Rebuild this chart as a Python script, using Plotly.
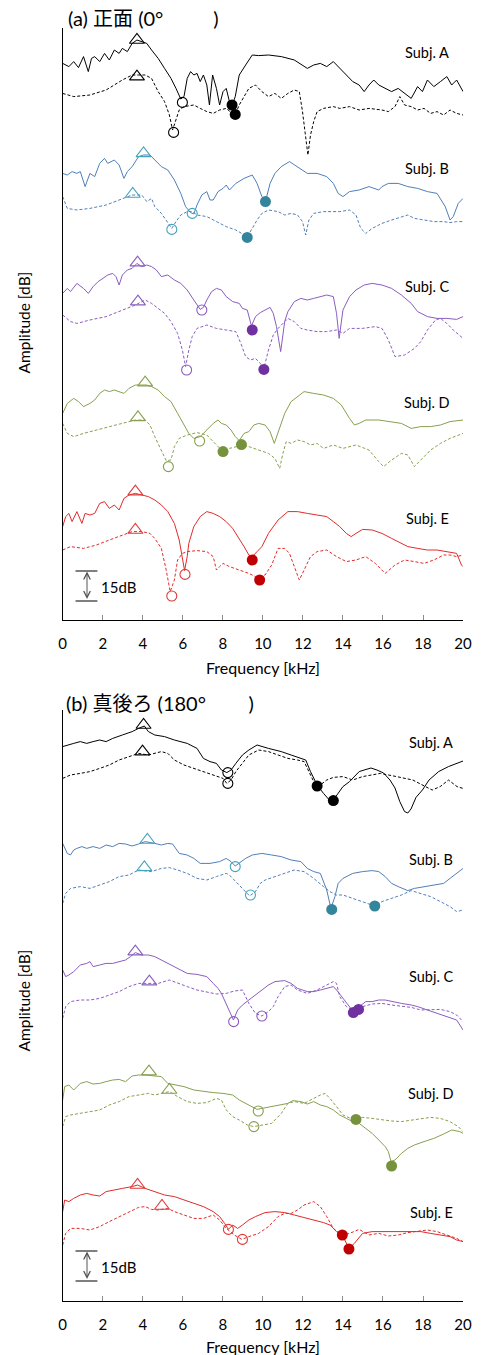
import plotly.graph_objects as go

W, H = 485, 1355
FREQ_TICKS = list(range(0, 21, 2))
SUBJECTS = ["A", "B", "C", "D", "E"]
# display offsets (dB) of each subject's curves in each panel
OFFSET_FRONT = [297.5, 240.0, 185.0, 125.0, 70.0]
OFFSET_BACK = [300.5, 240.5, 185.5, 120.5, 65.5]
LINE_COLORS = ["#000000", "#4f7fb8", "#8a5cc0", "#86a04e", "#e22a2a"]
OPEN_COLORS = ["#000000", "#45a3bd", "#8a5cc0", "#86a04e", "#e03a3a"]
FILL_COLORS = ["#000000", "#31859c", "#7030a0", "#76923c", "#c00000"]

# ---------------- (a) front 0 deg : (kHz, dB) ----------------
front_A_solid = [(0.0,-19.2),(0.31,-20.8),(0.55,-18.3),(0.79,-21.3),(1.04,-15.8),(1.28,-23.3),(1.44,-16.7),(1.60,-15.8),(1.85,-18.3),(2.09,-14.2),(2.33,-17.5),(2.58,-12.5),(2.82,-14.2),(2.98,-11.7),(3.23,-13.3),(3.47,-9.2),(3.71,-7.5),(3.95,-8.3),(4.20,-9.2),(4.44,-12.5),(4.77,-16.7),(5.09,-21.7),(5.41,-26.7),(5.66,-31.7),(5.90,-37),(6.06,-35.8),(6.22,-26.7),(6.39,-23.3),(6.55,-25),(6.71,-24.2),(6.87,-28.3),(7.03,-25),(7.20,-30),(7.33,-40),(7.49,-25),(7.68,-31.7),(7.84,-40),(8.01,-33.3),(8.17,-31.7),(8.33,-38.3),(8.46,-40.3),(8.62,-35.8),(8.82,-25),(9.14,-20),(9.47,-15),(9.79,-15.3),(10.28,-15),(10.92,-15.8),(11.57,-17.5),(12.22,-21.7),(12.54,-20),(12.87,-19.2),(13.19,-20.8),(13.52,-18.3),(13.84,-21.7),(14.17,-25),(14.49,-28.3),(14.81,-30),(15.06,-33.3),(15.30,-30),(15.54,-27.5),(15.79,-30),(16.11,-31.7),(16.43,-33.3),(16.76,-31.7),(17.08,-34.2),(17.41,-36.7),(17.73,-30.8),(17.97,-33.3),(18.22,-27.5),(18.54,-30.8),(18.87,-28.3),(19.19,-25.8),(19.43,-30),(19.68,-27.5),(20.0,-33.3)]
front_A_dash = [(0.0,-34.2),(0.55,-35.8),(1.36,-35),(2.17,-32.5),(2.98,-27.5),(3.47,-25),(3.79,-25),(4.12,-25),(4.44,-26.7),(4.77,-33.3),(5.09,-38.3),(5.33,-45),(5.49,-52.5),(5.61,-49.2),(5.82,-42.5),(6.06,-40.8),(6.55,-40),(6.87,-41.7),(7.20,-43.3),(7.52,-44.2),(7.84,-42.5),(8.17,-41.7),(8.41,-43.7),(8.62,-44.7),(8.82,-40),(9.06,-35.8),(9.30,-31.7),(9.63,-30),(9.95,-33.3),(10.28,-35.8),(10.60,-34.2),(10.92,-36.7),(11.25,-34.2),(11.57,-32.5),(11.82,-33.3),(11.98,-43.3),(12.14,-55),(12.25,-65),(12.38,-55),(12.54,-48.3),(12.71,-43.3),(13.03,-41.7),(13.52,-40.8),(13.84,-41.7),(14.33,-40.8),(14.81,-42.5),(15.30,-41.7),(15.95,-42.5),(16.27,-43.3),(16.60,-40.8),(16.84,-35.8),(17.08,-40),(17.41,-40.8),(17.73,-42.5),(18.05,-41.7),(18.38,-44.2),(18.70,-43.3),(19.03,-45),(19.35,-42.5),(19.68,-44.2),(20.0,-45)]

front_B_solid = [(0.0,-16.7),(0.23,-17.5),(0.47,-15.8),(0.71,-16.7),(0.88,-15.8),(1.12,-23.3),(1.36,-16.7),(1.60,-18.3),(1.85,-11.7),(2.09,-9.2),(2.25,-11.7),(2.41,-10.8),(2.58,-10),(2.82,-12.5),(3.06,-19.2),(3.23,-15.8),(3.47,-13.3),(3.79,-8.3),(4.04,-7.5),(4.36,-7.5),(4.60,-10),(4.93,-13.3),(5.25,-15),(5.58,-20),(5.90,-26.7),(6.14,-33.3),(6.39,-36.3),(6.55,-37),(6.71,-32.5),(6.95,-27.5),(7.20,-25.8),(7.36,-30),(7.52,-30),(7.76,-25.8),(8.01,-24.2),(8.17,-22.5),(8.33,-25),(8.65,-21.7),(9.06,-19.2),(9.47,-17.5),(9.71,-21.7),(9.95,-28.3),(10.13,-30.8),(10.36,-21.7),(10.60,-16.7),(10.92,-13.3),(11.33,-10.8),(11.73,-13.3),(12.22,-16.7),(12.71,-16.7),(13.19,-18.3),(13.52,-21.7),(13.76,-26.7),(14.00,-28.3),(14.33,-25.8),(14.81,-25),(15.30,-23.3),(15.79,-25),(15.95,-23.3),(16.27,-21.7),(16.76,-21.7),(17.24,-23.3),(17.73,-24.2),(18.22,-25.8),(18.70,-26.7),(19.11,-33.3),(19.35,-40),(19.51,-38.3),(19.76,-31.7),(20.0,-29.2)]
front_B_dash = [(0.0,-28.3),(0.23,-34.2),(0.71,-35),(1.36,-34.2),(2.17,-32.5),(2.98,-29.2),(3.47,-27.5),(3.95,-27.5),(4.20,-30.8),(4.44,-29.2),(4.60,-33.3),(4.93,-36.7),(5.25,-41.7),(5.45,-44.2),(5.66,-40.8),(5.90,-37.5),(6.22,-35.8),(6.47,-35.8),(6.71,-37.5),(7.20,-38.3),(7.68,-40.8),(8.17,-43.3),(8.65,-45),(9.22,-48.3),(9.47,-44.2),(9.71,-40),(9.95,-36.7),(10.28,-35),(10.76,-35.8),(11.09,-37.5),(11.41,-36.7),(11.73,-37.5),(11.98,-40.8),(12.14,-47.5),(12.30,-40),(12.54,-36.7),(13.03,-35.8),(13.84,-35.8),(14.33,-35),(14.65,-37.5),(14.89,-44.2),(15.14,-46.7),(15.46,-44.2),(15.95,-41.7),(16.43,-40),(16.92,-38.3),(17.24,-37.5),(17.57,-39.2),(18.05,-40),(18.54,-40.8),(19.03,-40.8),(19.35,-41.3),(19.68,-40.8),(20.0,-40.8)]

front_C_solid = [(0.0,-21.7),(0.23,-19.2),(0.39,-20.8),(0.71,-16.7),(1.04,-19.2),(1.28,-21.7),(1.52,-18.3),(1.77,-15.8),(2.01,-14.2),(2.25,-12.5),(2.50,-11.7),(2.66,-13.3),(2.82,-17.5),(2.98,-12.5),(3.23,-10),(3.47,-9.2),(3.71,-6.7),(3.95,-8.3),(4.20,-7.5),(4.44,-8.3),(4.68,-10),(4.93,-13.3),(5.25,-12.5),(5.58,-15),(5.90,-16.7),(6.22,-20),(6.55,-25),(6.87,-29.7),(7.03,-28.7),(7.20,-25),(7.44,-20.8),(7.68,-19.2),(7.93,-20),(8.17,-23.3),(8.49,-25.8),(8.82,-26.7),(8.98,-29.2),(9.22,-30),(9.43,-38),(9.63,-33.3),(9.87,-31.3),(10.11,-30),(10.36,-28.7),(10.52,-31.7),(10.68,-38.3),(10.89,-50.8),(11.09,-35.8),(11.25,-30.8),(11.57,-25.8),(11.90,-24.2),(12.22,-25),(12.54,-24.2),(12.87,-23.3),(13.19,-22.5),(13.52,-23.3),(13.68,-31.7),(13.81,-44.2),(14.00,-30),(14.33,-23.3),(14.65,-20),(15.06,-17.5),(15.46,-16.7),(15.95,-17.5),(16.43,-19.2),(16.92,-22.5),(17.41,-26.7),(17.73,-30.8),(18.22,-33.3),(18.70,-34.2),(19.19,-34.2),(19.68,-34.7),(20.0,-33.3)]
front_C_dash = [(0.0,-32.5),(0.39,-35.8),(0.71,-36.7),(1.36,-35),(2.17,-33.3),(2.98,-30),(3.63,-27.5),(4.12,-25),(4.44,-26.7),(4.77,-29.2),(5.09,-31.7),(5.41,-35.8),(5.74,-41.7),(5.98,-50),(6.14,-58.3),(6.30,-50),(6.47,-43.3),(6.71,-39.2),(7.20,-37.5),(7.68,-39.2),(8.17,-40),(8.65,-40.8),(8.90,-46.7),(9.14,-53.3),(9.38,-55),(9.63,-54.2),(9.87,-56.7),(10.05,-59.2),(10.28,-50),(10.52,-42.5),(10.76,-39.2),(11.09,-35.8),(11.25,-34.2),(11.57,-35.8),(11.90,-39.2),(12.22,-40),(12.71,-40.8),(13.19,-40.8),(13.68,-40),(14.00,-41.7),(14.33,-39.2),(14.98,-39.2),(15.62,-38.3),(15.95,-39.2),(16.27,-45),(16.60,-53.3),(17.08,-52.5),(17.57,-49.2),(17.89,-45.8),(18.22,-40),(18.62,-35),(18.87,-34.2),(19.19,-36.7),(19.51,-40),(20.0,-44.2)]

front_D_solid = [(0.0,-21.7),(0.23,-16.7),(0.55,-14.2),(0.79,-15.8),(1.04,-18.3),(1.36,-16.7),(1.60,-15),(1.85,-11.7),(2.09,-10),(2.33,-10.8),(2.58,-10),(2.82,-10.8),(3.06,-11.7),(3.31,-9.2),(3.63,-7.5),(3.95,-7.5),(4.20,-7.5),(4.44,-8.3),(4.77,-10),(5.09,-13.3),(5.41,-15.8),(5.74,-21.7),(6.06,-27.5),(6.30,-31.7),(6.55,-34.2),(6.87,-33.3),(7.20,-30),(7.52,-26.7),(7.76,-25),(7.93,-26.7),(8.17,-27.5),(8.41,-30),(8.62,-33.3),(8.82,-35.3),(9.06,-31.7),(9.30,-30.8),(9.55,-27.5),(9.79,-26.7),(10.11,-27.5),(10.36,-30.8),(10.57,-36.7),(10.76,-30.8),(11.09,-21.7),(11.41,-15.8),(11.73,-13.3),(12.06,-10.8),(12.54,-11.7),(13.03,-12.5),(13.52,-14.2),(13.92,-17.5),(14.33,-24.2),(14.57,-27.5),(14.81,-26.7),(15.14,-25),(15.79,-25),(16.43,-25.8),(16.92,-26.7),(17.41,-29.2),(17.89,-28.3),(18.38,-28.3),(18.87,-27.5),(19.35,-25.8),(20.0,-25)]
front_D_dash = [(0.0,-26.7),(0.23,-31.7),(0.55,-33.3),(1.04,-31.7),(1.69,-30),(2.33,-28.3),(2.98,-26.7),(3.63,-25),(4.12,-25),(4.36,-27.5),(4.60,-33.3),(4.93,-40),(5.17,-45.3),(5.41,-45),(5.58,-38.3),(5.82,-34.2),(6.22,-32.5),(6.71,-31.3),(7.20,-32.5),(7.52,-35.8),(7.84,-39.2),(8.01,-40.8),(8.33,-39.2),(8.82,-38),(9.30,-38.3),(9.79,-40),(10.28,-41.7),(10.60,-44.2),(10.84,-49.2),(11.00,-41.7),(11.17,-35.8),(11.41,-36.7),(11.73,-35),(12.06,-35.8),(12.38,-37.5),(12.71,-36.7),(13.03,-39.2),(13.52,-37.5),(14.00,-39.2),(14.65,-37.5),(15.30,-40),(15.79,-45.8),(16.03,-48.3),(16.43,-45),(16.92,-41.7),(17.24,-42.5),(17.57,-48.3),(17.89,-45),(18.38,-40),(18.87,-36.7),(19.35,-34.2),(20.0,-31.7)]

front_E_solid = [(0.0,-23.3),(0.15,-18.3),(0.31,-16.7),(0.47,-20.8),(0.71,-15.8),(0.96,-21.7),(1.12,-16.7),(1.36,-17.5),(1.60,-16.7),(1.85,-11.7),(2.09,-10.8),(2.33,-14.2),(2.58,-12.5),(2.82,-15),(3.06,-9.2),(3.31,-7.5),(3.63,-6.7),(3.95,-7.5),(4.28,-8.3),(4.60,-10),(4.93,-12.5),(5.25,-15.8),(5.58,-21.7),(5.82,-30),(5.98,-40),(6.09,-45.3),(6.22,-38.3),(6.30,-31.7),(6.55,-23.3),(6.87,-18.3),(7.20,-15.8),(7.52,-16.7),(7.84,-18.3),(8.17,-20.8),(8.49,-24.2),(8.82,-29.2),(9.06,-33.3),(9.30,-37.5),(9.47,-38.3),(9.71,-35.8),(9.95,-33.3),(10.28,-26.7),(10.76,-20),(11.25,-15.8),(11.73,-15.8),(12.22,-16.7),(12.71,-17.5),(13.19,-18.3),(13.52,-20.8),(13.84,-23.3),(14.17,-26.7),(14.41,-28.3),(14.65,-26.7),(14.98,-24.7),(15.46,-25),(15.95,-26.7),(16.43,-29.2),(16.92,-31.7),(17.24,-33.3),(17.73,-34.2),(18.22,-35),(18.70,-35),(19.19,-35.8),(19.68,-36.7),(19.92,-42.5),(20.0,-43.3)]
front_E_dash = [(0.0,-35),(0.39,-33.3),(1.04,-34.2),(1.69,-32.5),(2.33,-30),(2.98,-27.5),(3.47,-25.8),(3.95,-25.8),(4.36,-26.7),(4.60,-29.2),(4.93,-34.2),(5.17,-45),(5.37,-55.8),(5.58,-50),(5.74,-40),(5.98,-36.7),(6.22,-35.8),(6.71,-35.3),(7.20,-35.8),(7.52,-38.3),(7.68,-45),(7.84,-43.3),(8.01,-41.7),(8.33,-43.3),(8.82,-45),(9.30,-46.7),(9.63,-48.3),(10.11,-47.5),(10.44,-42.5),(10.76,-34.2),(11.09,-34.2),(11.33,-36.7),(11.57,-43.3),(11.82,-50),(12.06,-45),(12.38,-38.3),(12.71,-35.8),(13.19,-35),(13.68,-38.3),(14.17,-40.8),(14.65,-40),(15.14,-38.3),(15.62,-41.7),(16.11,-46.7),(16.60,-42.5),(17.08,-40),(17.57,-40.8),(18.05,-41.7),(18.54,-40),(19.03,-37.5),(19.35,-37.5),(19.68,-38.3),(20.0,-37.5)]

# ---------------- (b) back 180 deg : (kHz, dB) ----------------
back_A_solid = [(0.0,-23.3),(0.23,-22.5),(0.55,-21.7),(0.88,-20.8),(1.20,-21.7),(1.52,-20.8),(1.85,-20),(2.17,-20.8),(2.50,-19.2),(2.98,-17.5),(3.47,-15.8),(3.79,-14.2),(4.08,-13),(4.28,-15.8),(4.60,-17.5),(5.09,-18.3),(5.58,-20),(6.22,-21.7),(6.71,-24.2),(7.03,-29.2),(7.36,-30.8),(7.68,-31.7),(7.93,-35),(8.20,-36.3),(8.41,-35),(8.65,-31.7),(8.98,-27.5),(9.30,-25),(9.71,-22.5),(10.28,-24.2),(10.92,-25.8),(11.41,-27.5),(11.90,-29.2),(12.14,-30),(12.38,-35.8),(12.71,-42.5),(13.03,-46.7),(13.32,-50),(13.52,-50),(13.76,-46.7),(14.00,-43.3),(14.33,-40.8),(14.81,-35.8),(15.06,-35),(15.40,-34),(15.70,-35),(16.03,-36.5),(16.35,-40),(16.60,-44),(16.84,-50.8),(17.08,-55.8),(17.24,-56.5),(17.40,-54.5),(17.65,-48.7),(17.97,-45),(18.30,-40),(18.78,-35.8),(19.27,-33.3),(19.92,-30.8),(20.0,-30.5)]
back_A_dash = [(0.0,-39.2),(0.39,-37.5),(0.88,-36.7),(1.36,-35.8),(1.85,-34.2),(2.33,-32.5),(2.82,-30),(3.31,-28.3),(3.79,-26.7),(4.28,-27.5),(4.60,-26.7),(4.93,-25.8),(5.25,-26.7),(5.58,-30),(6.06,-32.5),(6.55,-34.2),(7.03,-35.8),(7.52,-37.5),(8.01,-39.2),(8.20,-41.7),(8.41,-40),(8.65,-35.8),(8.98,-31.7),(9.30,-27.5),(9.79,-25),(10.28,-25.8),(10.76,-27.5),(11.25,-29.2),(11.73,-30),(12.06,-30.8),(12.30,-35.8),(12.54,-40.8),(12.71,-43),(12.87,-42.5),(13.19,-40),(13.52,-38.7),(14.00,-38.3),(14.49,-40),(14.98,-38.3),(15.46,-37.5),(15.87,-36.7),(16.68,-38.3),(17.49,-40),(18.12,-43.3),(18.46,-45),(18.86,-43.3),(19.27,-40),(19.70,-43.3),(20.0,-44.2)]

back_B_solid = [(0.0,-11.7),(0.23,-16.7),(0.39,-17.5),(0.55,-15),(0.71,-14.2),(0.96,-13.3),(1.20,-14.2),(1.52,-13.3),(1.85,-14.2),(2.17,-12.5),(2.50,-13.3),(2.82,-11.7),(3.14,-12),(3.47,-13),(3.79,-12),(4.12,-10.8),(4.60,-11.7),(4.93,-12.5),(5.25,-11.7),(5.49,-12),(5.82,-16.7),(6.22,-17.5),(6.55,-19.2),(6.87,-21.7),(7.36,-21.7),(7.84,-20.8),(8.17,-19.2),(8.41,-20.8),(8.62,-23),(8.82,-21.7),(9.14,-19.2),(9.47,-17.5),(9.95,-16.7),(10.44,-17.5),(10.92,-18.3),(11.41,-20),(11.90,-20.8),(12.22,-24.2),(12.54,-25.8),(12.87,-26.7),(13.19,-35),(13.40,-44.2),(13.60,-38.3),(13.76,-31.7),(14.00,-29.2),(14.49,-26.7),(14.98,-25.8),(15.46,-25.3),(15.79,-25.8),(16.11,-28.3),(16.43,-31.7),(16.76,-33.3),(17.24,-35.3),(17.57,-34.2),(18.05,-33.3),(18.54,-32.5),(19.03,-31.7),(19.35,-29.2),(19.68,-26.7),(20.0,-24.2)]
back_B_dash = [(0.0,-41.7),(0.15,-36.7),(0.39,-34.2),(0.88,-33.3),(1.36,-34.2),(1.85,-32.5),(2.33,-30.8),(2.82,-28.3),(3.31,-27.5),(3.79,-25),(4.44,-25.8),(4.93,-24.2),(5.33,-23.8),(5.74,-25),(6.22,-26.7),(6.71,-29.2),(7.20,-30),(7.68,-28.3),(8.17,-26.7),(8.33,-27.5),(8.65,-30.8),(8.98,-34.2),(9.34,-38),(9.63,-35.8),(9.87,-31.7),(10.11,-30),(10.60,-28.3),(11.09,-26.7),(11.57,-25),(12.06,-25.8),(12.54,-29.2),(13.03,-33.3),(13.35,-35.8),(13.68,-37.5),(14.00,-37.5),(14.49,-39.2),(14.98,-40.8),(15.38,-42.5),(15.59,-43),(15.95,-40.8),(16.43,-39.2),(16.92,-37.5),(17.41,-35.3),(17.89,-36.7),(18.38,-38.3),(18.87,-40.8),(19.35,-43.3),(19.68,-45.8),(20.0,-45)]

back_C_solid = [(0.0,-20),(0.15,-23.3),(0.31,-22.5),(0.55,-20.8),(0.88,-17.5),(1.20,-16.7),(1.36,-15.8),(1.52,-18.3),(1.85,-17.5),(2.17,-16.7),(2.50,-16.7),(2.82,-15.8),(3.14,-15),(3.39,-13.3),(3.63,-11.3),(3.95,-12.5),(4.28,-12.5),(4.60,-13.3),(4.93,-15),(5.25,-16.7),(5.58,-18.3),(5.90,-20),(6.22,-21.7),(6.71,-22.2),(7.20,-23.3),(7.52,-26.7),(7.76,-29.2),(7.93,-31.7),(8.17,-36.7),(8.33,-40.8),(8.53,-45),(8.74,-40),(8.98,-37.5),(9.30,-35),(9.63,-32.5),(9.95,-30),(10.28,-27.5),(10.60,-25.8),(11.09,-25.3),(11.41,-26.7),(11.73,-29.2),(12.22,-30.8),(12.54,-30.8),(12.87,-30),(13.19,-29.2),(13.52,-28.3),(13.68,-30),(14.00,-34.2),(14.33,-38.3),(14.52,-40.8),(14.81,-38.3),(15.14,-35.8),(15.46,-35.8),(15.79,-35),(16.11,-35),(16.43,-35.8),(16.92,-36.7),(17.41,-37.5),(17.73,-38.3),(18.22,-40),(18.70,-41.7),(19.19,-43.3),(19.68,-45),(20.0,-50)]
back_C_dash = [(0.0,-44.2),(0.15,-38.3),(0.39,-35.8),(0.88,-35),(1.36,-35),(1.85,-34.2),(2.33,-32.5),(2.82,-30.8),(3.31,-28.3),(3.79,-26.7),(4.28,-26.7),(4.77,-26.7),(5.33,-25),(5.74,-26.7),(6.22,-28.3),(6.71,-30),(7.20,-31.2),(7.68,-32),(8.17,-31.7),(8.57,-30.5),(8.98,-30),(9.30,-36.7),(9.63,-41.7),(9.95,-43),(10.28,-40.8),(10.52,-38.3),(10.76,-33.3),(11.09,-28.3),(11.41,-27.5),(11.73,-30),(12.22,-31.7),(12.71,-30),(13.19,-27.5),(13.52,-25.8),(13.68,-26.7),(13.84,-33.3),(14.17,-38.3),(14.49,-40),(14.78,-39.7),(14.98,-38.3),(15.46,-37),(15.95,-36.7),(16.43,-37.5),(16.92,-38),(17.41,-38.7),(17.89,-40),(18.38,-40),(18.87,-39.7),(19.35,-40.8),(19.68,-42.5),(20.0,-45.8)]

back_D_solid = [(0.0,-20),(0.10,-13.3),(0.31,-12.5),(0.55,-15),(0.88,-11.7),(1.20,-10.8),(1.52,-12),(1.85,-11.7),(2.17,-10.8),(2.50,-10),(2.82,-9.7),(3.14,-10.8),(3.47,-8),(3.79,-7.5),(4.12,-7.5),(4.60,-8),(4.93,-8.3),(5.25,-11.7),(5.58,-12.5),(6.06,-13.3),(6.55,-15),(7.03,-15.8),(7.52,-16.3),(8.01,-16.7),(8.49,-17.5),(8.82,-20),(9.14,-21.7),(9.47,-23.3),(9.71,-24.7),(9.95,-24.2),(10.44,-23.3),(10.92,-22.5),(11.25,-21.7),(11.49,-20.3),(11.90,-20.8),(12.22,-22),(12.54,-20.8),(12.87,-22.5),(13.19,-23.3),(13.52,-25),(13.84,-27.5),(14.17,-29.2),(14.49,-30.8),(14.81,-31.7),(15.14,-34.2),(15.46,-36.7),(15.79,-40),(16.11,-43.3),(16.27,-45.8),(16.40,-50.8),(16.60,-50),(16.92,-46.7),(17.24,-44.2),(17.57,-42.5),(18.05,-40.8),(18.54,-39.2),(19.03,-37),(19.43,-35),(19.84,-35.8),(20.0,-36.7)]
back_D_dash = [(0.0,-33.3),(0.15,-28.3),(0.39,-27.5),(0.88,-26.7),(1.36,-25.8),(1.85,-25),(2.33,-22.5),(2.82,-20.8),(3.31,-18.3),(3.79,-17.5),(4.28,-16.7),(4.60,-17.5),(4.93,-16.7),(5.33,-15.8),(5.74,-18.3),(6.22,-20.8),(6.71,-21.7),(7.20,-21.3),(7.68,-19.2),(7.93,-20),(8.17,-25),(8.49,-28.3),(8.82,-30),(9.22,-32.5),(9.55,-33.3),(9.95,-32.5),(10.44,-31.7),(10.92,-26.7),(11.25,-21.7),(11.57,-20.8),(12.06,-21.7),(12.54,-19.2),(12.87,-17.5),(13.11,-16.7),(13.35,-19.2),(13.68,-23.3),(14.00,-27.5),(14.49,-29.7),(14.98,-28.7),(15.46,-29.2),(15.95,-30),(16.43,-30.5),(16.92,-30.8),(17.41,-30),(17.89,-29.2),(18.38,-28.7),(18.87,-29.2),(19.35,-30.8),(19.76,-33.3),(20.0,-35.8)]

back_E_solid = [(0.0,-20.8),(0.10,-15),(0.31,-15.8),(0.55,-14.2),(0.88,-12.5),(1.20,-11.7),(1.52,-12.5),(1.85,-13),(2.17,-10.8),(2.50,-10),(2.98,-9.2),(3.47,-8.3),(3.74,-7.5),(4.12,-9.2),(4.60,-10.8),(5.09,-12.5),(5.58,-13.3),(6.06,-15),(6.55,-16.7),(7.03,-18.3),(7.52,-20.8),(7.84,-23.3),(8.09,-26.7),(8.28,-29.7),(8.49,-27.5),(8.74,-29.2),(8.98,-27.5),(9.30,-25),(9.63,-23.3),(10.11,-21.3),(10.60,-20.8),(11.09,-21.3),(11.57,-22.5),(12.06,-23.7),(12.54,-25),(13.03,-26.3),(13.35,-27.5),(13.68,-30.8),(13.97,-32.5),(14.30,-39.2),(14.57,-36.7),(14.98,-31.7),(15.46,-30.8),(15.95,-30.8),(16.43,-30.8),(16.92,-30.8),(17.41,-30.8),(17.89,-30.8),(18.38,-31.7),(18.87,-32.5),(19.35,-33.3),(19.68,-35),(20.0,-35.8)]
back_E_dash = [(0.0,-37.5),(0.15,-31.7),(0.39,-29.2),(0.88,-29.2),(1.36,-30),(1.85,-28.3),(2.33,-25.8),(2.82,-23.3),(3.31,-20.8),(3.79,-18.7),(4.12,-18.3),(4.44,-19.7),(4.77,-20),(5.25,-19.2),(5.58,-20.8),(6.06,-22.5),(6.55,-24.2),(7.03,-24.2),(7.52,-22.5),(7.84,-25),(8.17,-29.2),(8.57,-32.5),(8.95,-34.7),(9.30,-33.3),(9.79,-31.7),(10.28,-28.3),(10.76,-23.3),(11.09,-21.7),(11.41,-21.7),(11.73,-20),(12.06,-17.5),(12.54,-15.8),(12.87,-18.3),(13.19,-23.3),(13.52,-29.2),(13.84,-31.7),(13.97,-32.5),(14.33,-31.7),(14.81,-29.7),(15.30,-32.5),(15.79,-31.7),(16.27,-33),(16.76,-32.5),(17.24,-31.3),(17.73,-30.8),(18.22,-30),(18.70,-30.8),(19.19,-32.5),(19.68,-34.2),(20.0,-35.8)]

# markers per subject: [solid-curve point, dashed-curve point] as (kHz, dB)
front_triangle = [[(3.71,-7.5),(3.71,-25.8)],[(4.04,-6.7),(3.50,-27)],[(3.74,-6.3),(3.76,-25.8)],[(4.12,-6.3),(3.76,-23.7)],[(3.63,-5.8),(3.63,-25)]]
front_open = [[(5.98,-38.7),(5.54,-53.7)],[(6.47,-36.7),(5.45,-44.7)],[(6.95,-30),(6.19,-60)],[(6.84,-35.5),(5.28,-48.3)],[(6.11,-47.2),(5.45,-58)]]
front_filled = [[(8.46,-40),(8.62,-44.7)],[(10.13,-30.8),(9.22,-48.7)],[(9.47,-40),(10.05,-59.7)],[(8.93,-37.3),(8.01,-40.8)],[(9.47,-40),(9.84,-50)]]
back_triangle = [[(4.04,-12.5),(3.99,-25.8)],[(4.23,-10),(4.08,-23.7)],[(3.63,-10.8),(4.33,-25.8)],[(4.31,-5.8),(5.33,-15)],[(3.74,-7.5),(4.96,-18)]]
back_open = [[(8.25,-36.3),(8.25,-41.7)],[(8.62,-23.3),(9.38,-37.5)],[(8.54,-45.8),(9.95,-43)],[(9.77,-25.5),(9.55,-33.3)],[(8.28,-29.7),(8.98,-34.7)]]
back_filled = [[(13.52,-50.3),(12.71,-43)],[(13.44,-44.7),(15.59,-43)],[(14.52,-41.3),(14.78,-39.7)],[(16.43,-53),(14.65,-29.7)],[(14.30,-39.5),(13.97,-32.5)]]

FRONT = [(front_A_solid, front_A_dash), (front_B_solid, front_B_dash), (front_C_solid, front_C_dash),
         (front_D_solid, front_D_dash), (front_E_solid, front_E_dash)]
BACK = [(back_A_solid, back_A_dash), (back_B_solid, back_B_dash), (back_C_solid, back_C_dash),
        (back_D_solid, back_D_dash), (back_E_solid, back_E_dash)]

FONT = "Lato, 'Noto Sans CJK JP', sans-serif"


def px_x(px):
    return px / W


def px_y(py):
    return 1 - py / H


fig = go.Figure()

panels = [
    (FRONT, OFFSET_FRONT, front_triangle, front_open, front_filled, "x", "y"),
    (BACK, OFFSET_BACK, back_triangle, back_open, back_filled, "x2", "y2"),
]

for curves, offs, tri, opn, fil, xa, ya in panels:
    for i in range(len(SUBJECTS)):
        solid, dash = curves[i]
        off = offs[i]
        for data, dstyle in ((solid, "solid"), (dash, "3px,2px")):
            fig.add_trace(go.Scatter(
                x=[p[0] for p in data], y=[off + p[1] for p in data],
                mode="lines", line=dict(color=LINE_COLORS[i], width=1, dash=dstyle),
                xaxis=xa, yaxis=ya, showlegend=False, hoverinfo="skip"))
        fig.add_trace(go.Scatter(
            x=[p[0] for p in tri[i]], y=[off + p[1] for p in tri[i]], mode="markers",
            marker=dict(symbol="triangle-up-open", size=13, color=OPEN_COLORS[i], line=dict(width=1.1)),
            xaxis=xa, yaxis=ya, showlegend=False, hoverinfo="skip"))
        fig.add_trace(go.Scatter(
            x=[p[0] for p in opn[i]], y=[off + p[1] for p in opn[i]], mode="markers",
            marker=dict(symbol="circle-open", size=10, color=OPEN_COLORS[i], line=dict(width=1.1)),
            xaxis=xa, yaxis=ya, showlegend=False, hoverinfo="skip"))
        fig.add_trace(go.Scatter(
            x=[p[0] for p in fil[i]], y=[off + p[1] for p in fil[i]], mode="markers",
            marker=dict(symbol="circle", size=11, color=FILL_COLORS[i]),
            xaxis=xa, yaxis=ya, showlegend=False, hoverinfo="skip"))

xdom = [px_x(60.3), px_x(471.7)]
xcommon = dict(domain=xdom, range=[0, 20], tickvals=FREQ_TICKS, showline=True, linecolor="black",
               linewidth=1, ticks="inside", ticklen=5, tickcolor="#8c8c8c", showgrid=False,
               zeroline=False, tickfont=dict(size=15, color="black", family=FONT),
               ticklabelstandoff=10)
ycommon = dict(showline=True, linecolor="black", linewidth=1, showticklabels=False, ticks="",
               showgrid=False, zeroline=False, fixedrange=True)

# width follows the page (so positions stay proportional to the window); height fixed
fig.update_layout(
    height=H, autosize=True, margin=dict(l=0, r=0, t=0, b=0, pad=0),
    paper_bgcolor="white", plot_bgcolor="white",
    font=dict(family=FONT, color="black"),
    xaxis=dict(anchor="y", **xcommon),
    yaxis=dict(anchor="x", domain=[px_y(620), px_y(28)], range=[0, 296], **ycommon),
    xaxis2=dict(anchor="y2", **xcommon),
    yaxis2=dict(anchor="x2", domain=[px_y(1301), px_y(710)], range=[0, 295.5], **ycommon),
)

ann = []
ann.append(dict(text="(a) 正面 (0°\u3000\u3000\u2002)", x=px_x(64), y=px_y(18), xanchor="left", yanchor="middle",
                font=dict(size=20)))
ann.append(dict(text="(b) 真後ろ (180°\u3000\u3000\u2009)", x=px_x(62), y=px_y(703), xanchor="left", yanchor="middle",
                font=dict(size=20)))
subj_front_y = [52, 169, 286, 403, 519]
subj_back_y = [742, 859, 976, 1093, 1212]
for i, s in enumerate(SUBJECTS):
    ann.append(dict(text="Subj. " + s, x=px_x(435), y=px_y(subj_front_y[i]), xanchor="center",
                    yanchor="middle", font=dict(size=14.5)))
    ann.append(dict(text="Subj. " + s, x=px_x(439), y=px_y(subj_back_y[i]), xanchor="center",
                    yanchor="middle", font=dict(size=14.5)))
for cy in (322, 1000):
    ann.append(dict(text="Amplitude [dB]", x=px_x(21), y=px_y(cy), textangle=-90, xanchor="center",
                    yanchor="middle", font=dict(size=15.5)))
for cy in (667, 1346):
    ann.append(dict(text="Frequency [kHz]", x=px_x(266), y=px_y(cy), xanchor="center",
                    yanchor="middle", font=dict(size=16)))

shapes = []
for top in (571, 1251):
    bot = top + 30
    for yy in (top, bot):
        shapes.append(dict(type="line", xref="paper", yref="paper", x0=px_x(73.5), x1=px_x(96),
                           y0=px_y(yy), y1=px_y(yy), line=dict(color="black", width=1)))
    ann.append(dict(text="", x=px_x(85.3), y=px_y(top + 0.5), xref="paper", yref="paper",
                    ax=0, ay=29, axref="pixel", ayref="pixel",
                    showarrow=True, arrowhead=5, startarrowhead=5, arrowside="end+start",
                    arrowsize=1.3, startarrowsize=1.3,
                    arrowwidth=1, arrowcolor="#555555", standoff=0, startstandoff=0))
    ann.append(dict(text="15dB", x=px_x(98), y=px_y(top + 15.5), xanchor="left", yanchor="middle",
                    font=dict(size=15)))

for a in ann:
    a.setdefault("xref", "paper")
    a.setdefault("yref", "paper")
    a.setdefault("showarrow", False)

fig.update_layout(annotations=ann, shapes=shapes)
fig.write_html(
    "out.html",
    config={"displayModeBar": False, "responsive": True},
    default_width="100%", default_height="1355px",
    post_script=("document.documentElement.style.margin='0';document.body.style.margin='0';"
                 "document.documentElement.style.overflow='hidden';document.body.style.overflow='hidden';"
                 "Plotly.Plots.resize(document.getElementById('{plot_id}'));"),
)
